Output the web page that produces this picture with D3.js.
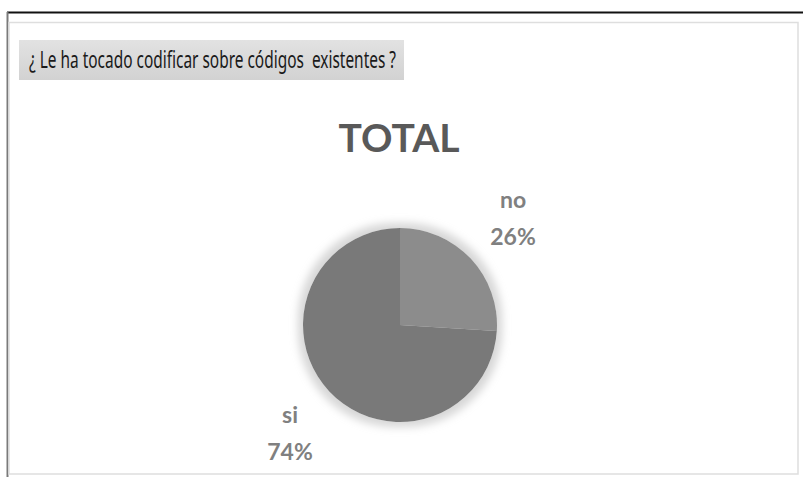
<!DOCTYPE html>
<html>
<head>
<meta charset="utf-8">
<script src="https://cdn.jsdelivr.net/npm/d3@7"></script>
<style>
  body { margin: 0; background: #fff; }
  svg { display: block; }
</style>
</head>
<body>
<div id="chart"></div>
<script>
var categories = ["no", "si"],
    values = [26, 74],
    colors = ["#8c8c8c", "#797979"],
    question = "¿ Le ha tocado codificar sobre códigos  existentes ?",
    chartTitle = "TOTAL";

var width = 803,
    height = 477,
    cx = 400,
    cy = 325,
    radius = 97;

var svg = d3.select("#chart").append("svg")
    .attr("width", width)
    .attr("height", height);

var defs = svg.append("defs");
var glow = defs.append("filter")
    .attr("id", "glow")
    .attr("x", "-30%").attr("y", "-30%")
    .attr("width", "160%").attr("height", "160%");
glow.append("feMorphology")
    .attr("in", "SourceAlpha").attr("operator", "dilate").attr("radius", 5)
    .attr("result", "d");
glow.append("feGaussianBlur").attr("in", "d").attr("stdDeviation", 4).attr("result", "b");
glow.append("feFlood").attr("flood-color", "#d6d6d6");
glow.append("feComposite").attr("in2", "b").attr("operator", "in").attr("result", "s");
var merge = glow.append("feMerge");
merge.append("feMergeNode").attr("in", "s");
merge.append("feMergeNode").attr("in", "SourceGraphic");

var grad = defs.append("linearGradient")
    .attr("id", "band").attr("x1", 0).attr("y1", 0).attr("x2", 0).attr("y2", 1);
grad.append("stop").attr("offset", "0%").attr("stop-color", "#e2e2e2");
grad.append("stop").attr("offset", "100%").attr("stop-color", "#d2d2d2");

// frame
svg.append("line")
    .attr("x1", 7).attr("y1", 12.5).attr("x2", 803).attr("y2", 12.5)
    .style("stroke", "#111").style("stroke-width", 2);
svg.append("line")
    .attr("x1", 7.5).attr("y1", 12).attr("x2", 7.5).attr("y2", 477)
    .style("stroke", "#7a7a7a").style("stroke-width", 2);
svg.append("rect")
    .attr("x", 9).attr("y", 22.5).attr("width", 789).attr("height", 451.5)
    .style("fill", "none").style("stroke", "#dedede").style("stroke-width", 1.5);

// question banner
svg.append("rect")
    .attr("x", 19).attr("y", 40).attr("width", 385).attr("height", 40)
    .attr("fill", "url(#band)");
svg.append("text")
    .attr("x", 29).attr("y", 68)
    .attr("textLength", 367).attr("lengthAdjust", "spacingAndGlyphs")
    .style("font-family", "'Liberation Sans Narrow', 'Noto Sans', sans-serif")
    .style("font-size", "23px")
    .style("fill", "#1a1a1a")
    .style("white-space", "pre")
    .text(question);

// title
svg.append("text")
    .attr("x", 399).attr("y", 152)
    .attr("text-anchor", "middle")
    .style("font-family", "Lato, 'Liberation Sans', sans-serif")
    .style("font-weight", "bold")
    .style("font-size", "39px")
    .style("fill", "#595959")
    .text(chartTitle);

var data = categories.map(function (c, i) { return {name: c, value: values[i], color: colors[i]}; });

var pie = d3.pie().sort(null).value(function (d) { return d.value; });
var arc = d3.arc().innerRadius(0).outerRadius(radius);

var g = svg.append("g")
    .attr("transform", "translate(" + cx + "," + cy + ")");

g.append("g").attr("filter", "url(#glow)")
  .selectAll("path")
  .data(pie(data))
  .enter()
    .append("path")
    .attr("d", arc)
    .attr("fill", function (d) { return d.data.color; });

// outside labels
var labelPos = [[113, -117], [-110, 98]];
var lbl = g.selectAll("g.lbl")
  .data(pie(data))
  .enter()
    .append("g")
    .attr("class", "lbl")
    .attr("transform", function (d, i) { return "translate(" + labelPos[i][0] + "," + labelPos[i][1] + ")"; })
    .style("font-family", "Lato, 'Liberation Sans', sans-serif")
    .style("font-weight", "bold")
    .style("font-size", "23px")
    .style("fill", "#808080")
    .attr("text-anchor", "middle");

lbl.append("text")
    .attr("y", 0)
    .text(function (d) { return d.data.name; });
lbl.append("text")
    .attr("y", 37)
    .text(function (d) { return d3.format(".0f")(d.data.value) + "%"; });
</script>
</body>
</html>
